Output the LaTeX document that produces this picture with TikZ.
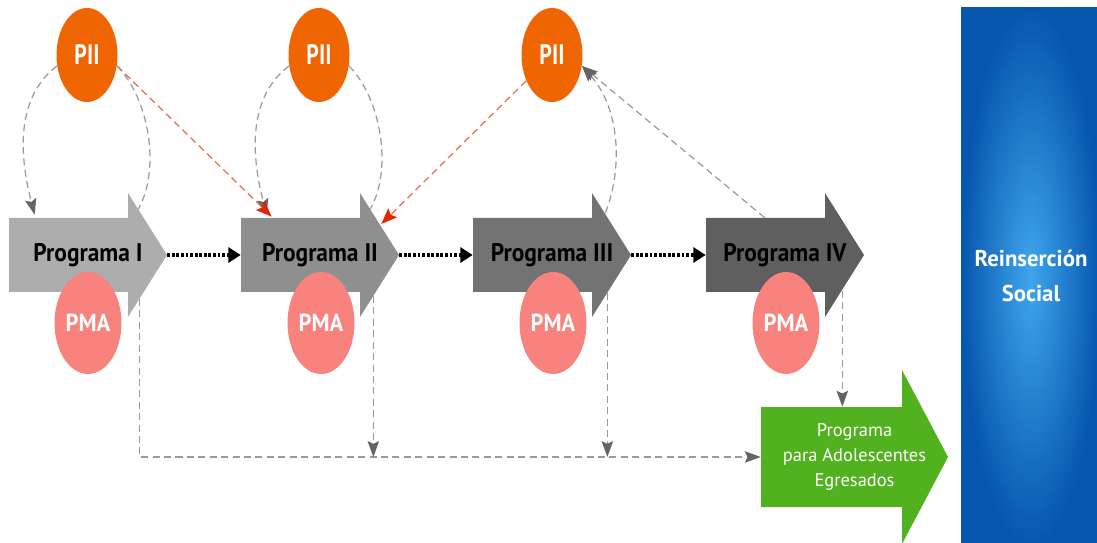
\documentclass[tikz,border=0pt]{standalone}
\usepackage{fontspec}
\setmainfont{PT Sans}
\newfontfamily\progfont[FakeStretch=0.92]{PT Sans}
\newfontfamily\piifont[FakeStretch=0.78]{PT Sans}
\usetikzlibrary{shapes.geometric,arrows.meta,calc}
\definecolor{arrA}{HTML}{ADADAD}
\definecolor{arrB}{HTML}{8F8F8F}
\definecolor{arrC}{HTML}{737373}
\definecolor{arrD}{HTML}{5F5F5F}
\definecolor{piiC}{HTML}{EE6502}
\definecolor{pmaC}{HTML}{F8827E}
\definecolor{greenC}{HTML}{52B11E}
\definecolor{blueOut}{HTML}{0656AE}
\definecolor{blueIn}{HTML}{3FA6EC}
\definecolor{lgray}{HTML}{9A9A9A}
\definecolor{dgray}{HTML}{646464}
\definecolor{redL}{HTML}{EF6A45}
\definecolor{redD}{HTML}{E32400}
\newcommand{\progshape}[2]{\fill[#1] (#2,218) -- ++(119,0) -- ++(0,-25) -- ++(39,62) -- ++(-39,62) -- ++(0,-25) -- ++(-119,0) -- cycle;}
\begin{document}
\begin{tikzpicture}[x=0.02cm,y=-0.02cm,
  progtext/.style={inner sep=0pt,minimum width=3.16cm,minimum height=1.48cm,font=\progfont\bfseries\fontsize{14.5}{17}\selectfont,text=black},
  piinode/.style={ellipse,fill=piiC,inner sep=0pt,minimum width=1.22cm,minimum height=1.88cm,text=white,font=\piifont\bfseries\fontsize{16}{19}\selectfont},
  pmanode/.style={ellipse,fill=pmaC,inner sep=0pt,minimum width=1.34cm,minimum height=2.04cm,text=white,font=\progfont\bfseries\fontsize{14}{17}\selectfont},
  gline/.style={draw=lgray,line width=0.7pt,dash pattern=on 4pt off 2.5pt},
  garrow/.style={gline,-{Stealth[length=9pt,width=6.5pt,inset=1.5pt,color=dgray]}},
  rarrow/.style={draw=redL,line width=0.7pt,dash pattern=on 4pt off 2.5pt,-{Stealth[length=9pt,width=7pt,inset=1.5pt,color=redD]}},
  dotarrow/.style={draw=black,line width=1.8pt,dash pattern=on 1.6pt off 1pt,-{Triangle[length=7pt,width=8.5pt]}}
]
\useasboundingbox (0,0) rectangle (1097,543);
% big arrows
\progshape{arrA}{9}
\progshape{arrB}{241}
\progshape{arrC}{473}
\progshape{arrD}{706}
% green arrow
\fill[greenC] (761,407) -- (902,407) -- (902,370) -- (948,457) -- (902,544) -- (902,507) -- (761,507) -- cycle;
% blue panel
\shade[inner color=blueIn,outer color=blueOut] (961,8) rectangle (1100,546);
% nodes
\node[progtext] (P1) at (88,255) {Programa I};
\node[progtext] (P2) at (320,255) {Programa II};
\node[progtext] (P3) at (552,255) {Programa III};
\node[progtext] (P4) at (785,255) {Programa IV};
\node[pmanode] (M1) at (88,323) {PMA};
\node[pmanode] (M2) at (321,323) {PMA};
\node[pmanode] (M3) at (553,323) {PMA};
\node[pmanode] (M4) at (786,323) {PMA};
\node[piinode] (Q1) at (87,55) {PII};
\node[piinode] (Q2) at (319,55) {PII};
\node[piinode] (Q3) at (552,55) {PII};
\node[inner sep=0pt,minimum width=3.74cm,minimum height=2cm,align=center,text=white,font=\fontsize{10.5}{14}\selectfont] (G) at (854.5,457) {Programa\\para Adolescentes\\Egresados};
\node[align=center,text=white,font=\bfseries\fontsize{13}{20}\selectfont] (R) at (1031,276) {Reinserción\\Social};
% dotted flow
\draw[dotarrow] (P1.east) -- (P2.west);
\draw[dotarrow] (P2.east) -- (P3.west);
\draw[dotarrow] (P3.east) -- (P4.west);
% lower dashed connectors
\coordinate (d1) at ($(P1.east)+(-28,44)$);
\coordinate (d2) at ($(P2.east)+(-26,41)$);
\coordinate (d3) at ($(P3.east)+(-24,38)$);
\coordinate (d4) at ($(P4.east)+(-22,36)$);
\draw[garrow] (d1) -- (d1 |- G.west) -- (G.west);
\draw[garrow] (d2) -- (d2 |- G.west);
\draw[garrow] (d3) -- (d3 |- G.west);
\draw[garrow] (d4) -- (d4 |- G.north);
% PII loops
\draw[garrow] (Q1.200) .. controls +(-45,34) and +(-13,-50) .. ($(P1.north west)+(26,-3)$);
\draw[gline] (Q1.340) .. controls +(33,34) and +(22,-39) .. ($(P1.east)+(-29,-46)$);
\draw[garrow] (Q2.200) .. controls +(-45,34) and +(-13,-50) .. ($(P2.north west)+(26,-3)$);
\draw[gline] (Q2.340) .. controls +(33,34) and +(22,-39) .. ($(P2.east)+(-29,-46)$);
\draw[garrow] ($(P3.east)+(-26,-42)$) .. controls +(17,-43) and +(39,44) .. (Q3.340);
\draw[garrow] ($(P4.north west)+(59,0)$) -- (Q3.340);
% red arrows
\draw[rarrow] (Q1.340) -- ($(P2.north west)+(31,-1)$);
\draw[rarrow] (Q3.225) -- ($(P2.east)+(-18,-31)$);
\end{tikzpicture}
\end{document}
